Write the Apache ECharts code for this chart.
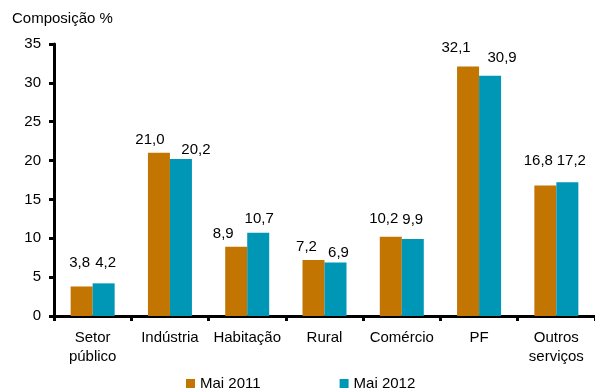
<!DOCTYPE html>
<html>
<head>
<meta charset="utf-8">
<script src="https://cdn.jsdelivr.net/npm/echarts@6/dist/echarts.min.js"></script>
<style>html,body{margin:0;padding:0;background:#fff}#c{width:595px;height:391px}</style>
</head>
<body>
<div id="c"></div>
<script>
var categories = ['Setor\npúblico', 'Indústria', 'Habitação', 'Rural', 'Comércio', 'PF', 'Outros\nserviços'];
var seriesNames = ['Mai 2011', 'Mai 2012'];
var mai2011 = [3.8, 21.0, 8.9, 7.2, 10.2, 32.1, 16.8];
var mai2012 = [4.2, 20.2, 10.7, 6.9, 9.9, 30.9, 17.2];
var yTicks = [0, 5, 10, 15, 20, 25, 30, 35];

// label placement tweaks (style only)
var shift2011 = [[-2,-16],[-9,-5],[-13,-5],[-7,-6],[-7,-10],[-12,-11],[-7,-17]];
var shift2012 = [[2,-13],[15,-2],[1,-6],[3,-2],[0,-12],[12,-11],[4,-14]];

var FONT = 'Liberation Sans, Arial, sans-serif';
function fmt(v){ return v.toFixed(1).replace('.', ','); }
function items(vals, shifts){
  return vals.map(function(v,i){ return {value:v, label:{offset:shifts[i]}}; });
}
var chart = echarts.init(document.getElementById('c'), null, {renderer:'canvas'});
chart.setOption({
  animation:false,
  backgroundColor:'#ffffff',
  textStyle:{fontFamily:FONT},
  graphic:[{type:'text', left:12, top:11, style:{text:'Composição %', font:'15px ' + FONT, fill:'#000'}}],
  legend:{
    data:seriesNames, left:186, top:376, padding:0, itemWidth:9, itemHeight:9, itemGap:79,
    icon:'rect', textStyle:{fontSize:15, color:'#000', fontFamily:FONT}
  },
  grid:{left:54, right:-5, top:44, bottom:75, containLabel:false},
  xAxis:{
    type:'category', data:categories,
    axisLine:{lineStyle:{color:'#000', width:3}},
    axisTick:{show:true, length:5, lineStyle:{color:'#000', width:3}},
    axisLabel:{color:'#000', fontSize:15, lineHeight:19, margin:12, interval:0, fontFamily:FONT}
  },
  yAxis:{
    type:'value', min:yTicks[0], max:yTicks[yTicks.length-1], interval:yTicks[1]-yTicks[0],
    splitLine:{show:false},
    axisLine:{show:true, lineStyle:{color:'#000', width:3}},
    axisTick:{show:true, length:5, lineStyle:{color:'#000', width:3}},
    axisLabel:{color:'#000', fontSize:15, margin:13, fontFamily:FONT}
  },
  series:[
    {name:seriesNames[0], type:'bar', data:items(mai2011, shift2011), barWidth:22, barGap:'0%',
     itemStyle:{color:'#C27500'},
     label:{show:true, position:'top', distance:0, color:'#000', fontSize:15, fontFamily:FONT,
            formatter:function(p){return fmt(p.value);}}},
    {name:seriesNames[1], type:'bar', data:items(mai2012, shift2012), barWidth:22, barGap:'0%',
     itemStyle:{color:'#0096B5'},
     label:{show:true, position:'top', distance:0, color:'#000', fontSize:15, fontFamily:FONT,
            formatter:function(p){return fmt(p.value);}}}
  ]
});
</script>
</body>
</html>
